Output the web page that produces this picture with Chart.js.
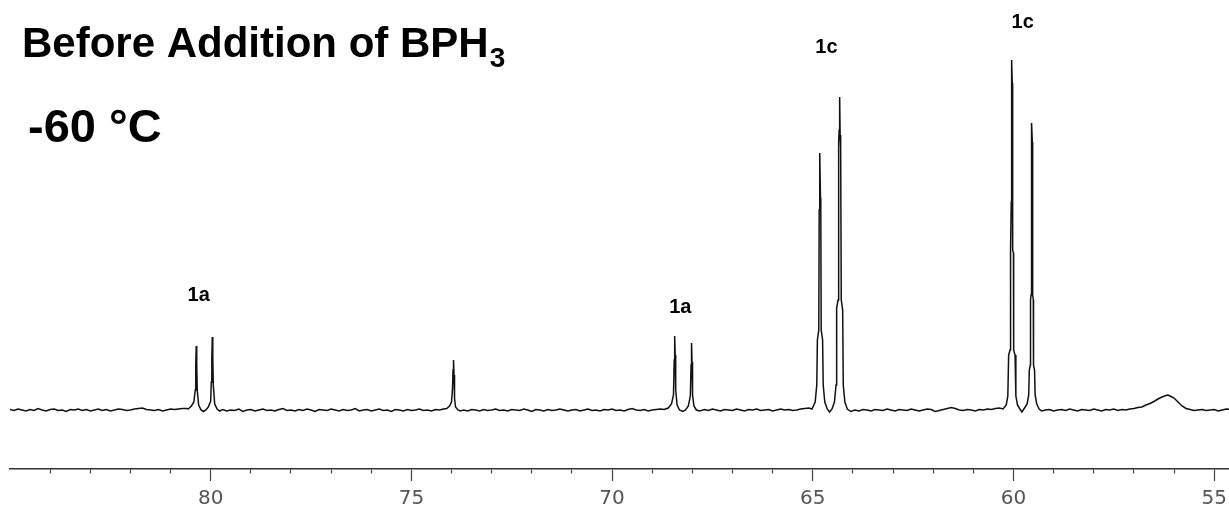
<!DOCTYPE html>
<html>
<head>
<meta charset="utf-8">
<script src="https://cdn.jsdelivr.net/npm/chart.js@4"></script>
<style>
  html, body { margin: 0; padding: 0; background: #fff; }
  canvas { display: block; }
</style>
</head>
<body>
<canvas id="nmr" width="1229" height="508"></canvas>
<script>
// Spectrum: [shift in ppm, intensity above baseline]
const leftBaseline = [
  [85.0,0.5],[84.9,-0.5],[84.8,1],[84.7,0],[84.6,-1],[84.5,0.5],[84.4,-0.5],[84.3,1.5],[84.2,0],[84.1,-1],
  [84.0,0.5],[83.9,1],[83.8,-0.5],[83.7,0],[83.6,-1.5],[83.5,0.5],[83.4,0],[83.3,1],[83.2,-0.5],[83.1,0.5],
  [83.0,-1],[82.9,0],[82.8,1],[82.7,-0.5],[82.6,0.5],[82.5,-1],[82.4,0],[82.3,1],[82.2,0.5],[82.1,-0.5],
  [82.0,0],[81.9,1],[81.8,1.5],[81.7,2],[81.6,0.5],[81.5,0],[81.4,-0.5],[81.3,0.5],[81.2,-1],[81.1,0],
  [81.0,1],[80.9,0.5],[80.8,1],[80.7,1.5],[80.6,1.5]
];
const doublet1aHigh = [
  [80.56,1],[80.48,4],[80.42,8],[80.385,20],[80.372,45],[80.36,64],[80.348,45],[80.335,20],[80.3,5],[80.24,0],
  [80.18,-1.5],[80.12,0],[80.06,3],[80.0,9],[79.985,28],[79.972,52],[79.96,73],[79.948,52],[79.935,25],[79.9,6],
  [79.84,1],[79.78,-1]
];
const midBaseline1 = [
  [79.7,0.5],[79.6,-1],[79.5,0],[79.4,-0.5],[79.3,1],[79.2,-1.5],[79.1,0],[79.0,0.5],[78.9,-1],[78.8,0],
  [78.7,1],[78.6,-0.5],[78.5,0],[78.4,-1],[78.3,0.5],[78.2,1.5],[78.1,-0.5],[78.0,0],[77.9,-1],[77.8,0.5],
  [77.7,-0.5],[77.6,1],[77.5,0],[77.4,-1.5],[77.3,0.5],[77.2,0],[77.1,-0.5],[77.0,1],[76.9,0],[76.8,-1],
  [76.7,0.5],[76.6,-0.5],[76.5,0],[76.4,1.5],[76.3,-1],[76.2,0],[76.1,0.5],[76.0,-1],[75.9,0],[75.8,1],
  [75.7,-0.5],[75.6,0],[75.5,-1.5],[75.4,0.5],[75.3,0],[75.2,-1],[75.1,0.5],[75.0,-0.5],[74.9,0],[74.8,1],
  [74.7,-0.5],[74.6,0],[74.5,-1],[74.4,0.5],[74.3,0],[74.2,1]
];
const singlet74 = [
  [74.12,1.5],[74.05,4],[74.0,8],[73.975,22],[73.962,40],[73.95,50],[73.938,35],[73.925,12],[73.9,3],[73.84,0],
  [73.78,-1]
];
const midBaseline2 = [
  [73.7,0],[73.6,-1],[73.5,0.5],[73.4,0],[73.3,-1],[73.2,0.5],[73.1,-0.5],[73.0,0],[72.9,1],[72.8,-0.5],
  [72.7,0],[72.6,-1],[72.5,0.5],[72.4,0],[72.3,-0.5],[72.2,1],[72.1,0],[72.0,-1.5],[71.9,0.5],[71.8,0],
  [71.7,-1],[71.6,0.5],[71.5,-0.5],[71.4,0],[71.3,1],[71.2,0],[71.1,-1],[71.0,0],[70.9,0.5],[70.8,-1],
  [70.7,0],[70.6,1],[70.5,-0.5],[70.4,0],[70.3,-1],[70.2,0.5],[70.1,0],[70.0,1],[69.9,-0.5],[69.8,0],
  [69.7,-1],[69.6,0.5],[69.5,1.5],[69.4,0],[69.3,-0.5],[69.2,0.5],[69.1,-1],[69.0,0],[68.9,0.5],[68.8,1],
  [68.7,0.5]
];
const doublet1aLow = [
  [68.6,2],[68.52,6],[68.47,15],[68.452,50],[68.44,74],[68.428,55],[68.415,20],[68.38,5],[68.32,0],[68.24,-1.5],
  [68.17,0],[68.1,4],[68.05,14],[68.032,45],[68.02,67],[68.008,48],[67.995,15],[67.96,4],[67.9,0],[67.82,-1]
];
const midBaseline3 = [
  [67.7,0.5],[67.6,-0.5],[67.5,1],[67.4,0],[67.3,-1],[67.2,0.5],[67.1,0],[67.0,-0.5],[66.9,1],[66.8,0],
  [66.7,-1],[66.6,0.5],[66.5,0],[66.4,1],[66.3,-0.5],[66.2,0],[66.1,0.5],[66.0,-1],[65.9,0],[65.8,1],
  [65.7,0],[65.6,0.5],[65.5,-0.5],[65.4,0],[65.3,1],[65.2,1.5],[65.1,2]
];
const doublet1c65 = [
  [65.02,1],[64.94,8],[64.9,25],[64.885,70],[64.85,80],[64.84,200],[64.832,212],[64.82,257],[64.808,212],[64.8,200],
  [64.79,80],[64.755,70],[64.74,25],[64.7,8],[64.64,1],[64.58,-2],[64.52,1],[64.46,8],[64.42,25],[64.405,102],
  [64.37,110],[64.355,268],[64.342,280],[64.33,313],[64.318,275],[64.305,262],[64.29,110],[64.255,100],[64.24,25],[64.2,8],
  [64.14,1],[64.05,-1.5]
];
const midBaseline4 = [
  [63.95,0],[63.85,-1],[63.75,0.5],[63.65,0],[63.55,-1],[63.45,0.5],[63.35,0],[63.25,-0.5],[63.15,1],[63.05,0],
  [62.95,-1],[62.85,0.5],[62.75,0],[62.65,-0.5],[62.55,1],[62.45,0],[62.35,-1],[62.25,0],[62.15,1],[62.05,0.5],
  [61.95,-1.5],[61.85,-0.5],[61.75,0.5],[61.65,1.5],[61.55,2.5],[61.45,1.5],[61.35,0],[61.25,-0.5],[61.15,0.5],[61.05,0],
  [60.95,-1],[60.85,0.5],[60.75,0],[60.65,1],[60.55,0.5],[60.45,1.5],[60.35,2]
];
const doublet1c60 = [
  [60.26,1],[60.18,5],[60.14,14],[60.12,55],[60.085,60],[60.08,157],[60.065,160],[60.055,208],[60.05,327],[60.04,350],
  [60.03,327],[60.025,208],[60.015,160],[60.0,157],[59.995,60],[59.96,55],[59.94,14],[59.9,5],[59.84,1],[59.79,-2],
  [59.74,1],[59.66,6],[59.62,15],[59.605,40],[59.58,45],[59.575,110],[59.562,115],[59.555,160],[59.552,268],[59.54,287],
  [59.53,268],[59.525,160],[59.518,115],[59.505,110],[59.5,45],[59.475,40],[59.46,15],[59.42,6],[59.36,1],[59.3,-1]
];
const rightBaseline = [
  [59.2,0],[59.1,0.5],[59.0,-1],[58.9,0],[58.8,0.5],[58.7,-0.5],[58.6,1],[58.5,0],[58.4,-1],[58.3,0.5],
  [58.2,0],[58.1,-0.5],[58.0,1],[57.9,0],[57.8,-1],[57.7,0.5],[57.6,0],[57.5,1],[57.4,-0.5],[57.3,0.5],
  [57.2,0],[57.1,1],[57.0,1.5],[56.9,2.5],[56.8,3],[56.7,5],[56.6,6.5],[56.5,8.5],[56.4,11],[56.3,13],
  [56.2,14.5],[56.15,15],[56.1,14],[56.0,12],[55.9,8],[55.8,4],[55.7,1.5],[55.6,0.5],[55.5,-0.5],[55.4,0],
  [55.3,0.5],[55.2,-0.5],[55.1,0],[55.0,0.5],[54.9,-1],[54.8,0],[54.7,1],[54.6,0.5]
];

// peak labels
const labelText = ["1a", "1a", "1c", "1c"];
const labelShift = [80.3, 68.3, 64.66, 59.77];
const labelLevel = [115, 103, 363, 388];

// axis
const majorTicks = [80, 75, 70, 65, 60, 55];
const titleMain = "Before Addition of BPH";
const titleSub = "3";
const tempText = "-60 °C";

const spectrum = [
  leftBaseline, doublet1aHigh, midBaseline1, singlet74, midBaseline2, doublet1aLow,
  midBaseline3, doublet1c65, midBaseline4, doublet1c60, rightBaseline
].flat().map(p => ({ x: p[0], y: p[1] }));

const isMajor = v => majorTicks.includes(Math.round(v));

// titles and peak labels
const annotate = {
  id: "annotate",
  afterDraw(chart) {
    const { ctx } = chart;
    const x = chart.scales.x;
    const y = chart.scales.y;
    ctx.save();
    ctx.fillStyle = "#000";
    ctx.textAlign = "left";
    ctx.textBaseline = "alphabetic";
    ctx.font = 'bold 42px "Liberation Sans", Arial, sans-serif';
    ctx.fillText(titleMain, 22, 57);
    const w = ctx.measureText(titleMain).width;
    ctx.font = 'bold 28px "Liberation Sans", Arial, sans-serif';
    ctx.fillText(titleSub, 22 + w + 1, 67);
    ctx.font = 'bold 47px "Liberation Sans", Arial, sans-serif';
    ctx.fillText(tempText, 28, 142);

    ctx.font = 'bold 20px "Liberation Sans", Arial, sans-serif';
    ctx.textAlign = "center";
    ctx.textBaseline = "middle";
    labelText.forEach((t, i) => {
      ctx.fillText(t, x.getPixelForValue(labelShift[i]), y.getPixelForValue(labelLevel[i]));
    });
    ctx.restore();
  }
};

new Chart(document.getElementById("nmr"), {
  type: "line",
  data: {
    datasets: [{
      data: spectrum,
      borderColor: "#111",
      borderWidth: 1.5,
      pointRadius: 0,
      tension: 0,
      fill: false
    }]
  },
  options: {
    responsive: false,
    animation: false,
    layout: { padding: { left: 10, right: 0, top: 0, bottom: 0 } },
    plugins: {
      legend: { display: false },
      tooltip: { enabled: false }
    },
    scales: {
      x: {
        type: "linear",
        reverse: true,
        min: 54.63,
        max: 85,
        border: { color: "#333", width: 1.5 },
        grid: {
          drawOnChartArea: false,
          tickLength: 12,
          tickColor: "#444",
          tickWidth: 1.2,
          tickBorderDash: c => (c.tick && isMajor(c.tick.value) ? [] : [4, 40])
        },
        ticks: {
          stepSize: 1,
          includeBounds: false,
          autoSkip: false,
          maxRotation: 0,
          padding: 6,
          color: "#555",
          font: { family: "DejaVu Sans", size: 20 },
          callback: v => (isMajor(v) ? String(Math.round(v)) : "")
        },
        afterBuildTicks: s => {
          s.ticks = s.ticks.filter(t => Math.abs(t.value - Math.round(t.value)) < 1e-6 && t.value < 84.5 && t.value > 54.9);
        },
        afterFit: s => {
          s.height = 39;
          s.paddingLeft = 0;
          s.paddingRight = 0;
        }
      },
      y: { display: false, min: -59, max: 410 }
    }
  },
  plugins: [annotate]
});
</script>
</body>
</html>
